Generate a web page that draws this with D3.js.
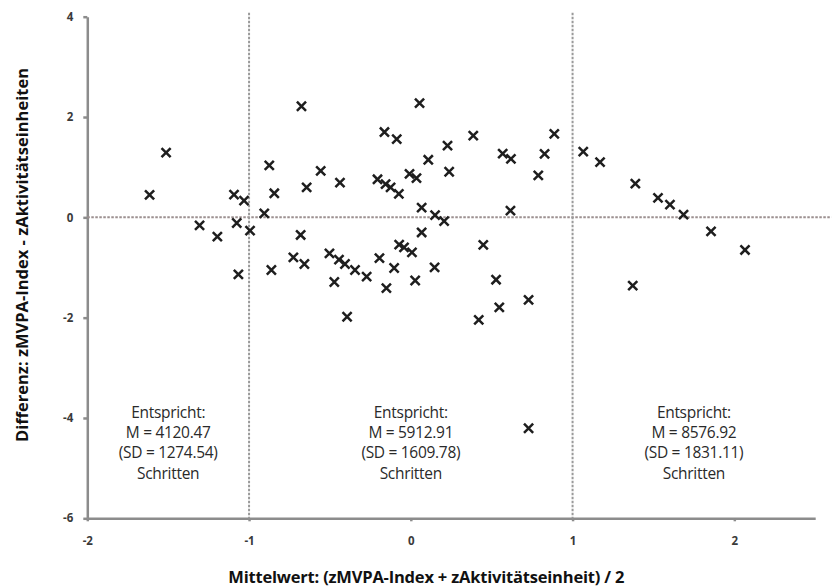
<!DOCTYPE html>
<html lang="de">
<head>
    <meta charset="UTF-8">
    <title>Bland-Altman: zMVPA-Index vs. zAktivitätseinheiten</title>
    <script src="https://d3js.org/d3.v7.min.js"></script>
    <style>
        body {
            margin: 0;
            padding: 0;
            background: #fff;
        }
        svg text {
            font-family: "Open Sans", "Noto Sans", sans-serif;
        }
        .axis path, .axis line {
            stroke: #8c8c8c;
            stroke-width: 2.5px;
        }
        .axis text {
            font-size: 11.5px;
            font-weight: bold;
            fill: #3a3a3a;
        }
        .ref {
            fill: none;
            stroke-width: 2px;
            stroke-dasharray: 2.5,1.5;
        }
        .marker {
            fill: none;
            stroke: #1e1e1e;
            stroke-width: 2.5px;
        }
        .note {
            font-size: 15.5px;
            fill: #2a2a2a;
            letter-spacing: -0.3px;
        }
        .title {
            font-size: 16.5px;
            font-weight: bold;
            fill: #111;
            letter-spacing: -0.2px;
        }
    </style>
</head>
<body>
    <svg id="chart" width="835" height="588"></svg>

    <script>
        // Mittelwert (x) und Differenz (y) je Person
        const meanValues = [
            -1.615, -1.513, -1.306, -1.196, -1.093, -1.031, -1.076, -0.994, -1.066, -0.906,
            -0.875, -0.844, -0.862, -0.676, -0.644, -0.557, -0.438, -0.681, -0.726, -0.658,
            -0.503, -0.473, -0.444, -0.407, -0.394, -0.345, -0.273, -0.206, -0.163, -0.156,
            -0.125, -0.087, -0.074, -0.194, -0.151, -0.103, -0.072, -0.042, -0.008, 0.035,
            0.054, 0.007, 0.027, 0.067, 0.067, 0.108, 0.150, 0.147, 0.206, 0.237,
            0.227, 0.386, 0.448, 0.420, 0.527, 0.547, 0.568, 0.619, 0.616, 0.728,
            0.728, 0.788, 0.827, 0.887, 1.066, 1.170, 1.388, 1.528, 1.602, 1.686,
            1.856, 2.066, 1.372
        ];
        const diffValues = [
            0.447, 1.290, -0.160, -0.385, 0.453, 0.333, -0.112, -0.265, -1.137, 0.080,
            1.037, 0.479, -1.049, 2.214, 0.598, 0.926, 0.692, -0.351, -0.798, -0.930,
            -0.718, -1.289, -0.844, -0.930, -1.981, -1.049, -1.183, 0.758, 1.700, 0.662,
            0.598, 1.560, 0.467, -0.814, -1.412, -1.009, -0.545, -0.598, 0.866, 0.782,
            2.278, -0.698, -1.259, -0.301, 0.193, 1.147, 0.044, -0.997, -0.076, 0.908,
            1.430, 1.630, -0.549, -2.045, -1.243, -1.795, 1.271, 1.165, 0.134, -1.646,
            -4.205, 0.836, 1.265, 1.664, 1.311, 1.101, 0.672, 0.387, 0.253, 0.054,
            -0.279, -0.650, -1.362
        ];

        const xTicks = [-2, -1, 0, 1, 2];
        const yTicks = [-6, -4, -2, 0, 2, 4];
        const cutPoints = [-1, 1];

        // Beschriftung der drei Bereiche
        const noteX = [-1.5, 0, 1.75];
        const noteLines = [
            ["Entspricht:", "M = 4120.47", "(SD = 1274.54)", "Schritten"],
            ["Entspricht:", "M = 5912.91", "(SD = 1609.78)", "Schritten"],
            ["Entspricht:", "M = 8576.92", "(SD = 1831.11)", "Schritten"]
        ];

        const xTitle = "Mittelwert: (zMVPA-Index + zAktivitätseinheit) / 2";
        const yTitle = "Differenz: zMVPA-Index - zAktivitätseinheiten";

        const svg = d3.select("#chart");

        const x = d3.scaleLinear().domain([-2, 2.5]).range([87.3, 815.2]);
        const y = d3.scaleLinear().domain([-6, 4]).range([518.3, 16.7]);

        // Achsen
        svg.append("g")
            .attr("class", "axis")
            .attr("transform", `translate(0,${y(-6)})`)
            .call(d3.axisBottom(x).tickValues(xTicks).tickFormat(d => String(d))
                .tickSize(3).tickSizeOuter(0).tickPadding(16));

        svg.append("g")
            .attr("class", "axis")
            .attr("transform", `translate(${x(-2)},0)`)
            .call(d3.axisLeft(y).tickValues(yTicks).tickFormat(d => String(d))
                .tickSize(4).tickSizeOuter(0).tickPadding(10));

        // Referenzlinien
        svg.append("line")
            .attr("class", "ref")
            .attr("stroke", "#9c9090")
            .attr("x1", x(-2)).attr("x2", x(2.6))
            .attr("y1", y(0)).attr("y2", y(0));

        svg.selectAll(".vref")
            .data(cutPoints)
            .enter().append("line")
            .attr("class", "ref vref")
            .attr("stroke", "#9a9a9a")
            .attr("x1", d => x(d)).attr("x2", d => x(d))
            .attr("y1", y(4.08)).attr("y2", y(-6));

        // Punkte
        const points = meanValues.map((m, i) => ({ m: m, d: diffValues[i] }));
        const cross = d3.symbol().type(d3.symbolX).size(56);

        svg.selectAll(".marker")
            .data(points)
            .enter().append("path")
            .attr("class", "marker")
            .attr("d", cross)
            .attr("transform", d => `translate(${x(d.m)},${y(d.d)})`);

        // Textblöcke
        noteLines.forEach((lines, i) => {
            const t = svg.append("text")
                .attr("class", "note")
                .attr("text-anchor", "middle")
                .attr("x", x(noteX[i]))
                .attr("y", y(-3.89));
            lines.forEach((line, j) => {
                t.append("tspan")
                    .attr("x", x(noteX[i]))
                    .attr("dy", j === 0 ? "0.35em" : 20.3)
                    .text(line);
            });
        });

        // Achsentitel
        svg.append("text")
            .attr("class", "title")
            .attr("text-anchor", "middle")
            .attr("x", (x(-2) + x(2.5)) / 2 - 25)
            .attr("y", 583)
            .text(xTitle);

        svg.append("text")
            .attr("class", "title")
            .attr("text-anchor", "middle")
            .attr("transform", "translate(28,255) rotate(-90)")
            .style("letter-spacing", "0px")
            .text(yTitle);
    </script>
</body>
</html>
